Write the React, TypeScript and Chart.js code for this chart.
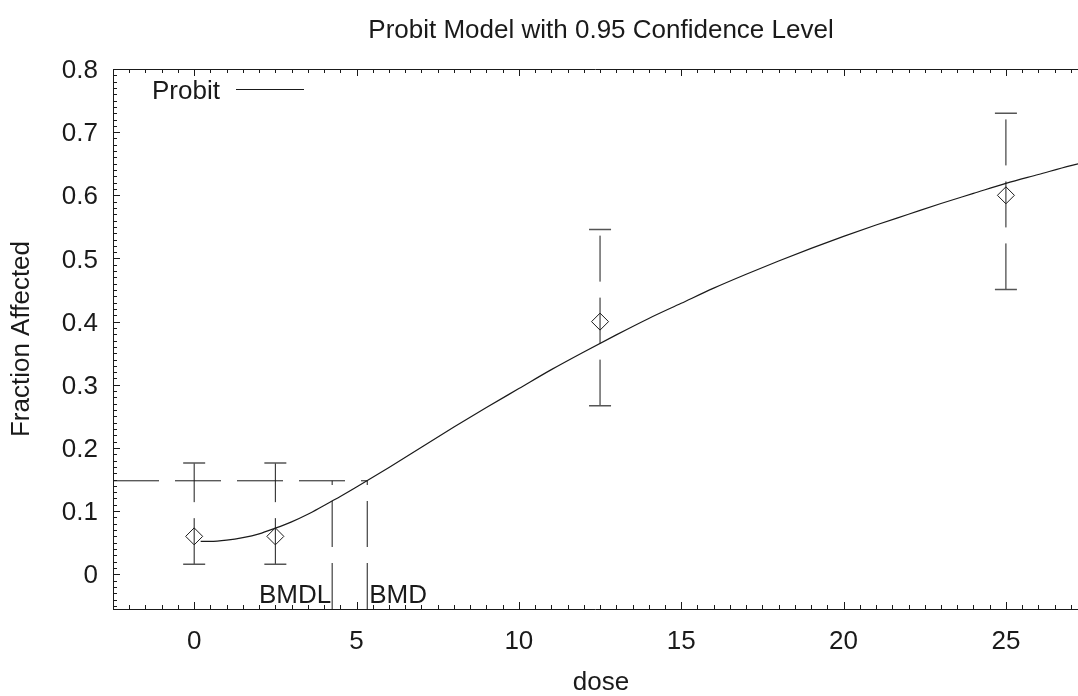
import React, { useEffect, useRef } from 'react';
import { Chart, registerables } from 'chart.js';

Chart.register(...registerables);

// ---- data ----
const doses = [0, 2.5, 12.5, 25];
const observed = [0.06, 0.06, 0.4, 0.6];
const lowerCI = [0.016, 0.016, 0.267, 0.451];
const upperCI = [0.176, 0.176, 0.546, 0.73];

const curveDose = [0.2, 0.5, 1, 1.5, 2, 2.5, 3, 3.5, 4, 4.5, 5, 6, 7, 8, 9, 10, 11, 12, 13, 14, 15, 16, 17, 18, 19, 20, 21, 22, 23, 24, 25, 26, 27, 27.5];
const curveFrac = [0.052, 0.052, 0.054, 0.058, 0.064, 0.073, 0.083, 0.095, 0.109, 0.123, 0.138, 0.169, 0.201, 0.233, 0.264, 0.294, 0.324, 0.352, 0.379, 0.405, 0.429, 0.453, 0.475, 0.496, 0.516, 0.535, 0.553, 0.57, 0.587, 0.603, 0.619, 0.633, 0.647, 0.653];

const BMR = 0.148;
const BMD = 5.33;
const BMDL = 4.25;

const xTickValues = [0, 5, 10, 15, 20, 25];
const xTickLabels = ['0', '5', '10', '15', '20', '25'];
const yTickValues = [0, 0.1, 0.2, 0.3, 0.4, 0.5, 0.6, 0.7, 0.8];
const yTickLabels = ['0', '0.1', '0.2', '0.3', '0.4', '0.5', '0.6', '0.7', '0.8'];

const X_MIN = -2.5;
const X_MAX = 27.22;
const Y_MIN = -0.055;
const Y_MAX = 0.8;

const titleText = 'Probit Model with 0.95 Confidence Level';
const xTitle = 'dose';
const yTitle = 'Fraction Affected';
const legendLabel = 'Probit';

const FONT = "'Liberation Sans', Arial, Helvetica, sans-serif";
const INK = '#1a1a1a';
const FS = 26;

const errorBarPlugin = {
  id: 'errorBars',
  afterDatasetsDraw(chart: any) {
    const { ctx, chartArea, scales } = chart;
    const x = scales.x;
    const y = scales.y;
    ctx.save();
    ctx.beginPath();
    ctx.rect(chartArea.left, chartArea.top, chartArea.right - chartArea.left, chartArea.bottom - chartArea.top);
    ctx.clip();
    doses.forEach((d, i) => {
      const px = x.getPixelForValue(d);
      const lo = y.getPixelForValue(lowerCI[i]);
      const hi = y.getPixelForValue(upperCI[i]);
      ctx.strokeStyle = INK;
      ctx.lineWidth = 1;
      ctx.setLineDash([46, 16]);
      ctx.beginPath();
      ctx.moveTo(px, lo);
      ctx.lineTo(px, hi);
      ctx.stroke();
      ctx.setLineDash([]);
      ctx.strokeStyle = '#555';
      ctx.lineWidth = 1.5;
      ctx.beginPath();
      ctx.moveTo(px - 11, lo);
      ctx.lineTo(px + 11, lo);
      ctx.moveTo(px - 11, hi);
      ctx.lineTo(px + 11, hi);
      ctx.stroke();
    });
    ctx.restore();
  },
};

const framePlugin = {
  id: 'frame',
  afterDraw(chart: any) {
    const { ctx, chartArea, scales } = chart;
    const x = scales.x;
    const y = scales.y;
    const { left, right, top, bottom } = chartArea;
    ctx.save();
    ctx.strokeStyle = INK;
    ctx.lineWidth = 1;
    ctx.setLineDash([]);
    // borders: left, top, bottom
    ctx.beginPath();
    ctx.moveTo(left + 0.5, top);
    ctx.lineTo(left + 0.5, bottom);
    ctx.moveTo(left, top + 0.5);
    ctx.lineTo(right, top + 0.5);
    ctx.moveTo(left, bottom + 0.5);
    ctx.lineTo(right, bottom + 0.5);
    ctx.stroke();

    // x ticks (bottom and top), inward
    ctx.beginPath();
    for (let k = Math.ceil(X_MIN / 0.5); k * 0.5 <= X_MAX; k++) {
      const v = k * 0.5;
      const px = Math.round(x.getPixelForValue(v)) + 0.5;
      const major = k % 10 === 0;
      const len = major ? 7 : 4;
      ctx.moveTo(px, bottom);
      ctx.lineTo(px, bottom - len);
      ctx.moveTo(px, top);
      ctx.lineTo(px, top + len);
    }
    // y ticks (left), inward
    for (let k = Math.ceil(Y_MIN / 0.01 - 1e-9); k * 0.01 <= Y_MAX + 1e-9; k++) {
      const v = k * 0.01;
      const py = Math.round(y.getPixelForValue(v)) + 0.5;
      const major = k % 10 === 0;
      const len = major ? 7 : 4;
      ctx.moveTo(left, py);
      ctx.lineTo(left + len, py);
    }
    ctx.stroke();

    // BMDL / BMD labels
    ctx.fillStyle = INK;
    ctx.font = `${FS}px ${FONT}`;
    ctx.textBaseline = 'alphabetic';
    ctx.textAlign = 'right';
    ctx.fillText('BMDL', x.getPixelForValue(BMDL) - 1, 603);
    ctx.textAlign = 'left';
    ctx.fillText('BMD', x.getPixelForValue(BMD) + 2, 603);

    // legend
    ctx.textAlign = 'left';
    ctx.fillText(legendLabel, 152, 99);
    ctx.beginPath();
    ctx.moveTo(236, 89.5);
    ctx.lineTo(304, 89.5);
    ctx.stroke();

    // title
    ctx.textAlign = 'center';
    ctx.fillText(titleText, 601, 38);

    // x title
    ctx.fillText(xTitle, 601, 690);

    // y title
    ctx.save();
    ctx.translate(29, 339);
    ctx.rotate(-Math.PI / 2);
    ctx.textAlign = 'center';
    ctx.textBaseline = 'alphabetic';
    ctx.fillText(yTitle, 0, 0);
    ctx.restore();

    ctx.restore();
  },
};

export default function App() {
  const canvasRef = useRef<HTMLCanvasElement | null>(null);

  useEffect(() => {
    const canvas = canvasRef.current;
    if (!canvas) return;
    Chart.defaults.font.family = FONT;
    Chart.defaults.color = INK;

    const curve = curveDose.map((d, i) => ({ x: d, y: curveFrac[i] }));
    const points = doses.map((d, i) => ({ x: d, y: observed[i] }));
    const bmrLine = [
      { x: X_MIN, y: BMR },
      { x: BMD, y: BMR },
    ];
    const bmdlLine = [
      { x: BMDL, y: Y_MIN },
      { x: BMDL, y: BMR },
    ];
    const bmdLine = [
      { x: BMD, y: Y_MIN },
      { x: BMD, y: BMR },
    ];

    const dashed = {
      type: 'line' as const,
      showLine: true,
      borderColor: INK,
      borderWidth: 1,
      borderDash: [46, 16],
      pointRadius: 0,
      fill: false,
    };

    const chart = new Chart(canvas, {
      type: 'scatter',
      data: {
        datasets: [
          {
            type: 'line',
            label: legendLabel,
            data: curve,
            showLine: true,
            borderColor: INK,
            borderWidth: 1.2,
            pointRadius: 0,
            cubicInterpolationMode: 'monotone',
            fill: false,
          },
          { ...dashed, label: 'BMR', data: bmrLine },
          { ...dashed, label: 'BMDL', data: bmdlLine },
          { ...dashed, label: 'BMD', data: bmdLine },
          {
            type: 'scatter',
            label: 'Observed',
            data: points,
            pointStyle: 'rectRot',
            pointRadius: 8.5,
            borderColor: INK,
            borderWidth: 1,
            backgroundColor: 'rgba(0,0,0,0)',
          },
        ] as any,
      },
      options: {
        animation: false,
        responsive: false,
        maintainAspectRatio: false,
        devicePixelRatio: 1,
        layout: { autoPadding: false, padding: { top: 69, right: 0, bottom: 0, left: 0 } },
        plugins: {
          legend: { display: false },
          title: { display: false },
          tooltip: { enabled: false },
        },
        scales: {
          x: {
            type: 'linear',
            min: X_MIN,
            max: X_MAX,
            grid: { display: false, drawTicks: false },
            border: { display: false },
            afterBuildTicks: (s: any) => {
              s.ticks = xTickValues.map((v) => ({ value: v }));
            },
            afterFit: (s: any) => {
              s.height = 87;
              s.paddingLeft = 0;
              s.paddingRight = 0;
            },
            ticks: {
              padding: 17,
              maxRotation: 0,
              autoSkip: false,
              font: { size: FS, family: FONT },
              color: INK,
              callback: (v: any) => {
                const i = xTickValues.indexOf(Number(v));
                return i >= 0 ? xTickLabels[i] : '';
              },
            },
          },
          y: {
            type: 'linear',
            min: Y_MIN,
            max: Y_MAX,
            grid: { display: false, drawTicks: false },
            border: { display: false },
            afterBuildTicks: (s: any) => {
              s.ticks = yTickValues.map((v) => ({ value: v }));
            },
            afterFit: (s: any) => {
              s.width = 113;
              s.paddingTop = 0;
              s.paddingBottom = 0;
            },
            ticks: {
              padding: 15,
              labelOffset: 2,
              autoSkip: false,
              font: { size: FS, family: FONT },
              color: INK,
              callback: (v: any) => {
                const i = yTickValues.findIndex((t) => Math.abs(t - Number(v)) < 1e-9);
                return i >= 0 ? yTickLabels[i] : '';
              },
            },
          },
        },
      } as any,
      plugins: [errorBarPlugin, framePlugin],
    });

    return () => {
      chart.destroy();
    };
  }, []);

  return (
    <div style={{ position: 'fixed', left: 0, top: 0, width: 1078, height: 696, background: '#fff' }}>
      <canvas ref={canvasRef} width={1078} height={696} style={{ width: 1078, height: 696, display: 'block' }} />
    </div>
  );
}
